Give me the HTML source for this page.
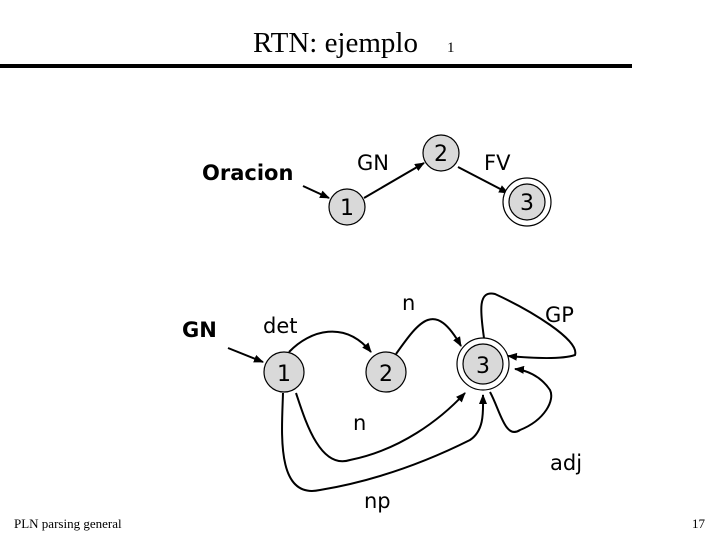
<!DOCTYPE html>
<html><head><meta charset="utf-8"><style>
html,body{margin:0;padding:0;background:#fff;}
svg{display:block;}
</style></head><body>
<svg width="720" height="540" viewBox="0 0 720 540" xmlns="http://www.w3.org/2000/svg">
<defs><marker id="a" markerWidth="10" markerHeight="8" refX="9" refY="4" orient="auto" markerUnits="userSpaceOnUse"><path d="M0,0 L10,4 L0,8 z" fill="#000"/></marker></defs>
<text x="253" y="52" font-family="Liberation Serif,serif" font-size="29">RTN: ejemplo</text>
<text x="447" y="52" font-family="Liberation Serif,serif" font-size="15">1</text>
<line x1="0" y1="66" x2="632" y2="66" stroke="#000" stroke-width="4"/>
<g font-family="DejaVu Sans,sans-serif" fill="#000">
<text x="202" y="180" font-size="21" font-weight="bold">Oracion</text>
<text x="357" y="170" font-size="21">GN</text>
<text x="484" y="170" font-size="21">FV</text>
<text x="182" y="337" font-size="21" font-weight="bold">GN</text>
<text x="263" y="333" font-size="21">det</text>
<text x="402" y="310" font-size="21">n</text>
<text x="545" y="322" font-size="21">GP</text>
<text x="353" y="430" font-size="21">n</text>
<text x="550" y="470" font-size="21">adj</text>
<text x="364" y="508" font-size="21">np</text>
</g>
<g stroke="#000" stroke-width="2" fill="none">
<line x1="303" y1="186" x2="329" y2="198" marker-end="url(#a)"/>
<line x1="364" y1="198" x2="424" y2="163" marker-end="url(#a)"/>
<line x1="458" y1="167" x2="508" y2="193" marker-end="url(#a)"/>
<line x1="228" y1="348" x2="263" y2="362" marker-end="url(#a)"/>
<path d="M289,352 C310,330 345,320 371,352" marker-end="url(#a)"/>
<path d="M396,354 C420,320 435,300 461,346" marker-end="url(#a)"/>
<path d="M484,338 C480,310 478,290 495,294 C530,310 580,340 575,355 C560,360 530,358 508,356" marker-end="url(#a)"/>
<path d="M490,392 C500,410 505,440 520,430 C545,420 555,400 550,390 C540,375 525,370 515,369" marker-end="url(#a)"/>
<path d="M296,393 C305,420 320,470 350,460 C400,450 440,420 465,393" marker-end="url(#a)"/>
<path d="M283,393 C282,430 275,500 320,490 C380,480 430,460 470,440 C485,430 483,410 483,395" marker-end="url(#a)"/>
</g>
<g stroke="#000" stroke-width="1.2" fill="#d9d9d9">
<circle cx="347" cy="207" r="18"/>
<circle cx="441" cy="153" r="18"/>
<circle cx="527" cy="202" r="24" fill="#fff"/>
<circle cx="527" cy="202" r="18"/>
<circle cx="284" cy="372" r="20"/>
<circle cx="386" cy="372" r="20"/>
<circle cx="483" cy="364" r="26" fill="#fff"/>
<circle cx="483" cy="364" r="20"/>
</g>
<g font-family="DejaVu Sans,sans-serif" font-size="22" text-anchor="middle" fill="#000">
<text x="347" y="215">1</text><text x="441" y="161">2</text><text x="527" y="210">3</text>
<text x="284" y="381">1</text><text x="386" y="381">2</text><text x="483" y="373">3</text>
</g>
<text x="14" y="528" font-family="Liberation Serif,serif" font-size="13">PLN parsing general</text>
<text x="692" y="528" font-family="Liberation Serif,serif" font-size="13">17</text>
</svg>
</body></html>
